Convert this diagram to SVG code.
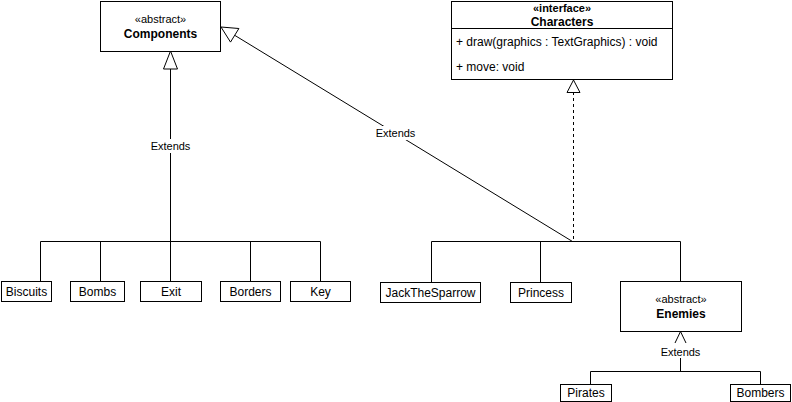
<svg xmlns="http://www.w3.org/2000/svg" width="792" height="402" viewBox="0 0 792 402">
<style>
.box{fill:#fff;stroke:#000;stroke-width:1}
.t{font-family:"Liberation Sans",Arial,sans-serif;font-size:12px;fill:#000;text-anchor:middle}
.s{font-size:11px}
.b{font-weight:bold}
.l{text-anchor:start}
.c{fill:none;stroke:#000;stroke-width:1}
.tri{fill:#fff;stroke:#000;stroke-width:1}
.lbl{font-family:"Liberation Sans",Arial,sans-serif;font-size:11px;fill:#000;text-anchor:middle}
</style>
<rect width="792" height="402" fill="#fff"/>
<g id="connectors">
  <path class="c" d="M170.5 69V241.5M40.5 241.5H320.5M40.5 241.5V281M100.5 241.5V281M170.5 241.5V281M250.5 241.5V281M320.5 241.5V281"/>
  <path class="tri" d="M170.5 51L163.5 69H177.5Z"/>
  <rect x="150" y="139" width="41" height="14" fill="#fff"/>
  <text class="lbl" x="170.5" y="150">Extends</text>

  <path class="c" d="M431.5 241.5H680.5M431.5 241.5V282M540.5 241.5V282M680.5 241.5V281"/>
  <path class="c" d="M573.5 92V241" stroke-dasharray="3 3"/>
  <path class="tri" d="M573.5 80L567 92.5H580Z"/>
  <path class="c" d="M572.5 241.5L234.7 35.3"/>
  <path class="tri" d="M221 27L230.5 42.1L238.9 28.5Z"/>
  <rect x="375" y="126" width="41" height="14" fill="#fff"/>
  <text class="lbl" x="395.5" y="137">Extends</text>

  <path class="c" d="M680.5 358V371.5M590.5 371.5H760.5M590.5 371.5V384M760.5 371.5V384"/>
  <path class="c" d="M675 343L680.5 331.5L686 343"/>
  <text class="lbl" x="680.5" y="356">Extends</text>
</g>
<g id="Components">
  <rect class="box" x="100.5" y="1.5" width="120" height="50"/>
  <text class="t s" x="160.5" y="23">«abstract»</text>
  <text class="t b" x="160.5" y="38">Components</text>
</g>
<g id="Characters">
  <rect class="box" x="451.5" y="1.5" width="221" height="78"/>
  <line class="c" x1="451.5" y1="28.5" x2="672.5" y2="28.5"/>
  <text class="t s b" x="562" y="12">«interface»</text>
  <text class="t b" x="562" y="26">Characters</text>
  <text class="t l" x="456" y="46">+ draw(graphics : TextGraphics) : void</text>
  <text class="t l" x="456" y="71">+ move: void</text>
</g>
<g id="Biscuits"><rect class="box" x="1.5" y="281.5" width="50" height="20"/><text class="t" x="26.5" y="296">Biscuits</text></g>
<g id="Bombs"><rect class="box" x="70.5" y="281.5" width="54" height="20"/><text class="t" x="97.5" y="296">Bombs</text></g>
<g id="Exit"><rect class="box" x="140.5" y="281.5" width="61" height="20"/><text class="t" x="171" y="296">Exit</text></g>
<g id="Borders"><rect class="box" x="220.5" y="281.5" width="60" height="20"/><text class="t" x="250.5" y="296">Borders</text></g>
<g id="Key"><rect class="box" x="290.5" y="281.5" width="60" height="20"/><text class="t" x="320.5" y="296">Key</text></g>
<g id="JackTheSparrow"><rect class="box" x="380.5" y="282.5" width="100" height="20"/><text class="t" x="430.5" y="297">JackTheSparrow</text></g>
<g id="Princess"><rect class="box" x="510.5" y="282.5" width="61" height="20"/><text class="t" x="541" y="297">Princess</text></g>
<g id="Enemies">
  <rect class="box" x="620.5" y="281.5" width="121" height="50"/>
  <text class="t s" x="681" y="303">«abstract»</text>
  <text class="t b" x="681" y="318">Enemies</text>
</g>
<g id="Pirates"><rect class="box" x="560.5" y="384.5" width="51" height="17"/><text class="t" x="586" y="397">Pirates</text></g>
<g id="Bombers"><rect class="box" x="730.5" y="384.5" width="60" height="17"/><text class="t" x="760.5" y="397">Bombers</text></g>
</svg>
